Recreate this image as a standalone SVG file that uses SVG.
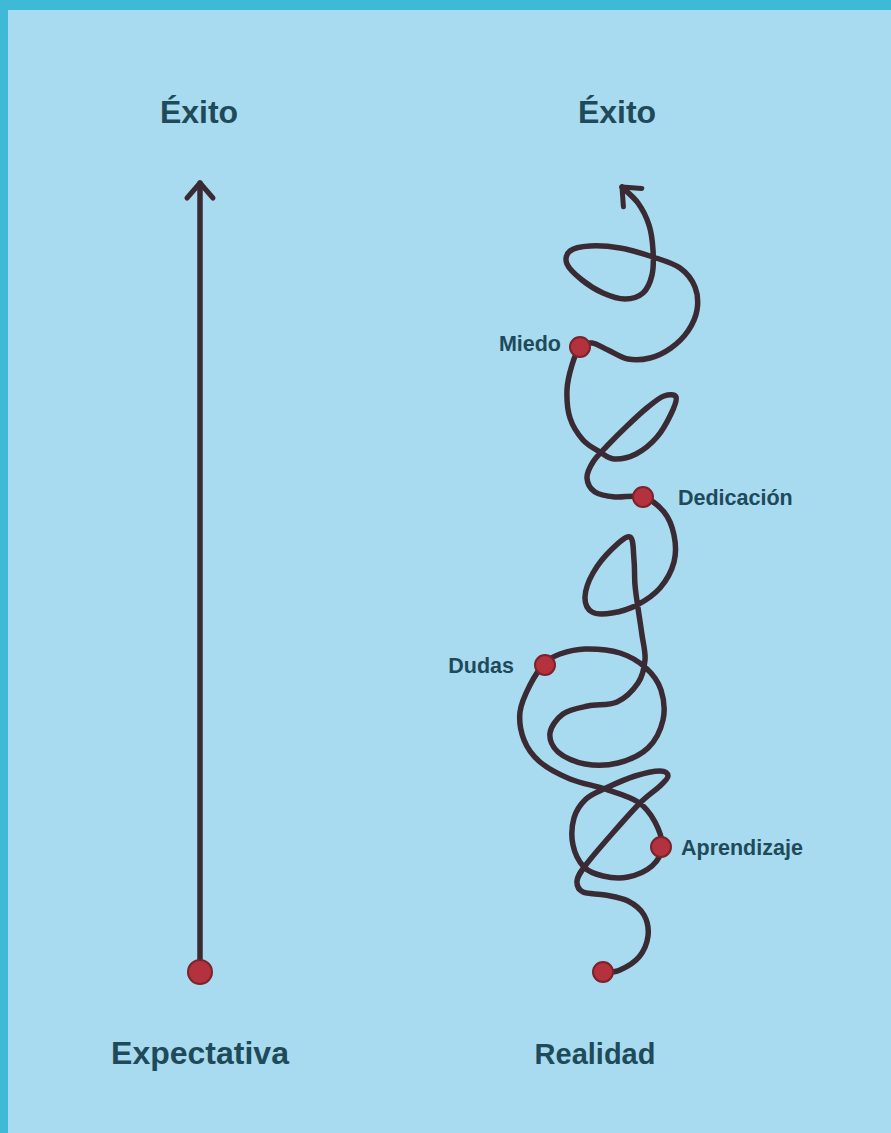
<svg xmlns="http://www.w3.org/2000/svg" width="891" height="1133" viewBox="0 0 891 1133">
<defs>
<style>
.title{font-family:"Liberation Sans",Arial,sans-serif;font-weight:bold;font-size:32px;fill:#1e4a5a;text-anchor:middle}
.lbl{font-family:"Liberation Sans",Arial,sans-serif;font-weight:bold;font-size:21.5px;fill:#1e4a5a}
.line{fill:none;stroke:#3a2a33;stroke-width:5.5;stroke-linecap:round;stroke-linejoin:round}
.dot{fill:#b3323d;stroke:#7c222b;stroke-width:2}
</style>
<marker id="chev" markerUnits="userSpaceOnUse" markerWidth="40" markerHeight="40" refX="0" refY="0" viewBox="-20 -20 40 40" orient="auto-start-reverse" overflow="visible">
<path d="M-15,-13 L0,0 L-15,13" fill="none" stroke="#3a2a33" stroke-width="5" stroke-linecap="round" stroke-linejoin="round"/>
</marker>
</defs>
<rect x="0" y="0" width="891" height="1133" fill="#a8dbef"/>
<rect x="0" y="0" width="891" height="10" fill="#3fbad6"/>
<rect x="0" y="0" width="8" height="1133" fill="#3fbad6"/>
<g id="connectors">
<path id="expectation-line" class="line" d="M200,972 L200,183" marker-end="url(#chev)"/>
<path id="reality-line" class="line" marker-start="url(#chev)" d="M622,187 C627.3,192.3 633.5,196.7 638,203 S646.5,217.2 649,225 S652.5,241.7 653,250 S653.7,267.8 652,275 S647.5,289 643,293 S631.7,299 625,299 S610.2,296.2 603,293 S588,284.8 582,280 S569,268.8 567,264 S566.2,254 570,251 S581.7,246.5 590,246 S609.5,246.2 620,248 S643,253.7 653,257 S673,263 680,268 S692.2,280 695,287 S698.2,302.7 697,310 S692.3,324.7 688,331 S677.3,343.5 671,348 S657.2,356.2 650,358 S635,360.3 628,359 S614,352.7 608,350 S596.7,343.5 592,343 S583.3,343.3 580,347 S574.2,357.8 572,365 S567.3,381.2 567,390 S567.3,409.7 570,418 S578,434.3 583,440 S594.8,448.8 600,452 S608,458.7 614,459 S628.8,457.7 636,454 S651.2,443.7 657,437 S667.8,420.7 671,414 S677.2,400 676,397 S668.7,394.3 664,396 S654.2,402 648,407 S633.8,419.5 627,426 S612.7,440 607,446 S596.3,456.7 593,462 S586.7,473 587,478 S590.3,488.8 595,492 S607,496.2 615,497 S634.8,494.5 643,497 S658.8,505.7 664,512 S672.3,526.7 674,535 S676.3,553.2 674,562 S666.2,580.8 660,588 S645,600.8 637,605 S619.5,611.8 612,613 S596.5,614.7 592,612 S584.8,603.5 585,597 S588.5,581 593,573 S605.8,555 612,549 S626.3,535.2 630,537 S633.2,552 634,560 S634.3,577 635,585 S636.8,599.7 638,608 S640.8,626.3 642,635 S645.7,652 645,660 S642.7,676 638,683 S625.3,698.2 617,702 S597,704 588,706 S569.3,709.5 563,714 S550.8,726.7 550,733 S552.2,746.8 558,752 S575,762.2 585,764 S607.5,765.7 618,763 S640.5,755.2 648,748 S660.8,729.7 663,720 S663.8,698.7 661,690 S652.8,674.2 646,668 S630.2,656.2 620,653 S595,648.8 585,649 S566.7,651.7 560,654 S550,657.8 545,663 S534.2,676.8 530,685 S521,702.8 520,712 S520.7,731.7 524,740 S532.3,755.5 540,762 S559.2,774.5 570,779 S593.7,785.2 605,789 S629.7,796.5 638,802 S651,814.5 655,822 S662.5,839.7 662,847 S657.7,861 652,866 S636.2,875.3 628,877 S610.3,877.7 603,876 S589,872.2 584,867 S574.7,853.2 573,845 S571.8,825.7 574,818 S580.7,804 586,799 S597.8,791.8 606,788 S626,778.8 635,776 S654.5,771 660,771 S668,773.5 668,776 S664.7,781.5 660,786 S648.2,794.8 640,803 S620.2,824.5 611,835 S590.7,858.3 585,866 S577.3,876.7 577,881 S578.3,889.7 583,892 S597.5,893.5 605,895 S621.5,897.7 628,901 S640.7,909.2 644,915 S648.8,929 648,936 S643.7,951.3 639,957 S626,967.3 620,970 S608.7,972 603,973"/>
</g>
<g id="exito-left"><text class="title" x="199" y="123">Éxito</text></g>
<g id="exito-right"><text class="title" x="617" y="123">Éxito</text></g>
<g id="expectativa"><circle class="dot" cx="200" cy="972" r="12"/><text class="title" x="200" y="1064">Expectativa</text></g>
<g id="realidad"><circle class="dot" cx="603" cy="972" r="10"/><text class="title" x="595" y="1064" style="font-size:29px">Realidad</text></g>
<g id="miedo"><circle class="dot" cx="580" cy="347" r="10"/><text class="lbl" x="561" y="351" text-anchor="end">Miedo</text></g>
<g id="dedicacion"><circle class="dot" cx="643" cy="497" r="10"/><text class="lbl" x="678" y="505">Dedicación</text></g>
<g id="dudas"><circle class="dot" cx="545" cy="665" r="10"/><text class="lbl" x="514" y="673" text-anchor="end">Dudas</text></g>
<g id="aprendizaje"><circle class="dot" cx="661" cy="847" r="10"/><text class="lbl" x="681" y="855">Aprendizaje</text></g>
</svg>
